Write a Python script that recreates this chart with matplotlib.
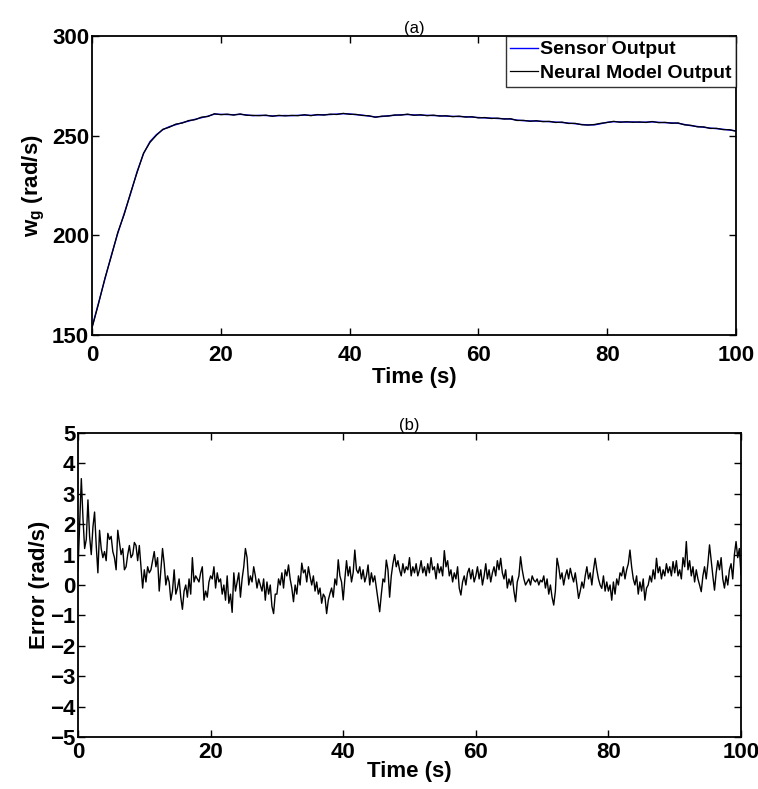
import matplotlib
matplotlib.use('Agg')
import matplotlib.pyplot as plt
import numpy as np

plt.rcParams['font.family'] = ['Liberation Sans', 'DejaVu Sans']
plt.rcParams['mathtext.fontset'] = 'custom'
plt.rcParams['mathtext.rm'] = 'Liberation Sans:bold'
plt.rcParams['mathtext.default'] = 'rm'

# (a) speed, one value per second
t_speed = np.arange(0, 101, 1)
sensor = [154, 166, 178, 190, 201, 211, 221, 232, 241, 247,
          250.5, 253, 254.5, 255.5, 256.5, 257.3, 258.2, 259, 259.8, 260.8,
          260.7, 260.6, 260.5, 260.7, 260.4, 260.0, 260.2, 260.1, 259.9, 260.0,
          260.1, 260.0, 260.2, 260.3, 260.2, 260.4, 260.5, 260.6, 260.8, 261.0,
          260.9, 260.5, 260.3, 259.8, 259.4, 259.6, 260.0, 260.2, 260.5, 260.6,
          260.4, 260.3, 260.2, 260.1, 260.0, 259.8, 259.7, 259.6, 259.5, 259.3,
          259.1, 258.9, 258.8, 258.6, 258.5, 258.3, 257.8, 257.5, 257.4, 257.3,
          257.2, 257.0, 256.8, 256.6, 256.3, 256.0, 255.6, 255.4, 255.4, 256.0,
          256.7, 257.0, 256.9, 256.8, 256.9, 256.7, 256.8, 256.9, 256.7, 256.5,
          256.4, 256.2, 255.6, 255.0, 254.6, 254.2, 253.8, 253.5, 253.2, 252.8,
          252.4]
neural = [153.5, 165.5, 178.5, 189.5, 201.5, 210.5, 221.5, 231.5, 241.2, 246.6,
          250.2, 253.2, 254.2, 255.8, 256.3, 257.6, 258.0, 259.3, 259.6, 261.0,
          260.5, 260.8, 260.3, 260.9, 260.2, 260.2, 260.0, 260.3, 259.7, 260.2,
          259.9, 260.2, 260.0, 260.5, 260.0, 260.6, 260.3, 260.8, 260.6, 261.2,
          260.7, 260.7, 260.1, 260.0, 259.2, 259.8, 259.8, 260.4, 260.3, 260.8,
          260.2, 260.5, 260.0, 260.3, 259.8, 260.0, 259.5, 259.8, 259.3, 259.5,
          258.9, 259.1, 258.6, 258.8, 258.3, 258.5, 257.6, 257.7, 257.2, 257.5,
          257.0, 257.2, 256.6, 256.8, 256.1, 256.2, 255.5, 255.3, 255.6, 256.2,
          256.6, 257.2, 256.7, 257.0, 256.7, 256.9, 256.6, 257.1, 256.5, 256.7,
          256.2, 256.4, 255.4, 255.2, 254.4, 254.4, 253.6, 253.7, 253.0, 253.0,
          252.2]

# (b) error, one value per 0.25 s
t_err = np.arange(0, 100.01, 0.25)
error = [0.5, 2.0, 3.5, 2.2, 1.2, 1.5, 2.8, 1.6, 1.0, 1.9, 2.4, 1.3, 0.4, 1.8, 1.2, 0.9, 1.1, 0.8, 1.7, 1.5,
         1.6, 1.1, 0.9, 0.5, 1.8, 1.4, 1.0, 1.2, 0.5, 0.6, 1.0, 1.3, 0.9, 1.0, 1.4, 1.3, 0.8, 1.3, 0.6, -0.1,
         0.5, 0.1, 0.6, 0.4, 0.5, 0.8, 1.1, 0.6, 0.9, -0.2, 0.5, 1.2, 0.7, 0.0, 0.3, 0.1, -0.5, -0.2, 0.5, -0.3,
         -0.1, 0.2, -0.4, -0.8, -0.2, 0.0, -0.4, 0.2, -0.3, 0.9, 0.1, 0.3, 0.2, 0.1, 0.4, 0.6, -0.5, -0.2, -0.4, 0.1,
         0.3, 0.2, 0.6, -0.1, 0.4, 0.1, 0.2, -0.3, 0.0, -0.5, 0.3, -0.6, -0.3, -0.9, 0.4, -0.2, 0.1, 0.4, -0.4, 0.2,
         0.6, 1.2, 0.9, 0.0, 0.3, 0.1, 0.6, 0.3, -0.1, 0.2, 0.0, -0.2, 0.2, -0.5, 0.1, -0.3, 0.0, -0.7, -0.94, -0.3,
         -0.3, 0.2, 0.0, 0.4, -0.1, 0.5, 0.3, 0.66, 0.2, -0.1, -0.55, 0.0, -0.3, 0.3, 0.0, 0.72, 0.4, 0.5, 0.1, 0.6,
         0.28, 0.0, 0.3, -0.2, 0.1, -0.3, -0.1, -0.6, -0.3, -0.4, -0.94, -0.5, -0.28, -0.1, -0.4, 0.2, 0.0, 0.83, 0.3, 0.1,
         -0.49, 0.2, 0.8, 0.3, 0.6, 0.1, 0.4, 1.15, 0.5, 0.39, 0.6, 0.2, 0.5, 0.1, 0.3, 0.66, 0.0, 0.4, 0.1, 0.3,
         -0.1, -0.5, -0.88, -0.3, 0.2, 0.1, 0.82, 0.5, -0.4, 0.3, 0.7, 1.0, 0.6, 0.8, 0.5, 0.3, 0.7, 0.4, 0.6, 0.5,
         0.9, 0.3, 0.6, 0.4, 0.7, 0.3, 0.5, 0.8, 0.4, 0.6, 0.3, 0.7, 0.4, 0.9, 0.5, 0.6, 0.2, 0.7, 0.4, 0.6,
         0.3, 1.13, 0.6, 0.8, 0.3, 0.5, 0.1, 0.4, 0.2, 0.6, -0.1, -0.33, 0.1, 0.3, 0.0, 0.4, 0.55, 0.2, 0.5, 0.1,
         0.3, 0.6, 0.2, 0.5, 0.0, 0.3, 0.7, 0.2, 0.5, 0.1, 0.4, 0.6, 0.3, 0.8, 0.5, 0.88, 0.4, 0.2, 0.5, -0.1,
         0.2, 0.0, 0.3, -0.2, -0.55, 0.1, 0.3, 0.93, 0.5, 0.2, 0.0, 0.1, 0.2, 0.0, 0.3, 0.16, 0.1, 0.2, 0.0, 0.16,
         0.1, 0.3, -0.1, 0.2, -0.3, 0.0, -0.4, -0.66, -0.2, 0.88, 0.6, 0.2, 0.4, 0.0, 0.3, 0.5, 0.2, 0.55, 0.3, 0.1,
         0.4, 0.0, -0.44, -0.2, 0.1, -0.1, 0.3, 0.6, 0.2, 0.4, 0.0, 0.5, 0.88, 0.5, 0.2, 0.0, -0.11, 0.3, -0.2, 0.1,
         -0.2, 0.0, -0.5, 0.1, -0.3, 0.2, 0.0, 0.4, 0.3, 0.6, 0.2, 0.5, 0.7, 1.15, 0.6, 0.2, 0.0, 0.3, -0.3, 0.1,
         -0.2, 0.2, -0.5, -0.1, 0.0, 0.3, 0.1, 0.5, 0.2, 0.88, 0.4, 0.6, 0.2, 0.5, 0.3, 0.7, 0.4, 0.6, 0.3, 0.77,
         0.4, 0.8, 0.3, 0.5, 0.2, 0.9, 0.6, 1.43, 0.5, 0.8, 0.3, 0.6, 0.1, 0.5, 0.2, 0.0, -0.22, 0.3, 0.6, 0.2,
         0.7, 1.32, 0.8, 0.3, -0.17, 0.4, 0.8, 0.5, 0.9, 0.2, -0.1, 0.3, 0.0, 0.5, 0.7, 0.2, 1.0, 1.43, 0.9, 1.2,
         0.33]

x_ticks = [0, 20, 40, 60, 80, 100]
speed_ticks = [150, 200, 250, 300]
err_ticks = [-5, -4, -3, -2, -1, 0, 1, 2, 3, 4, 5]


def style_axes(ax, xpad):
    for s in ax.spines.values():
        s.set_linewidth(1.3)
    ax.tick_params(direction='in', length=5, width=1, top=True, right=True,
                   labelsize=16)
    ax.tick_params(axis='x', pad=xpad)
    ax.tick_params(axis='y', pad=2)
    for lab in ax.get_xticklabels() + ax.get_yticklabels():
        lab.set_fontweight('bold')


fig = plt.figure(figsize=(7.58, 7.89), dpi=100)
ax1 = fig.add_axes([0.1214, 0.5754, 0.8496, 0.379])
ax2 = fig.add_axes([0.1029, 0.0659, 0.8747, 0.3853])

ax1.plot(t_speed, sensor, color='#0000ff', lw=1.0, label='Sensor Output')
ax1.plot(t_speed, neural, color='black', lw=0.9, label='Neural Model Output')
ax1.set_xlim(0, 100)
ax1.set_ylim(150, 300)
ax1.set_xticks(x_ticks)
ax1.set_yticks(speed_ticks)
style_axes(ax1, 7)
ax1.set_xlabel('Time (s)', fontsize=16, fontweight='bold', labelpad=1)
ax1.set_ylabel(r'w$_{g}$ (rad/s)', fontsize=16, fontweight='bold', labelpad=4)
ax1.set_title('(a)', fontsize=12, pad=2)
leg = ax1.legend(loc='upper right', borderaxespad=0, fancybox=False,
                 edgecolor='black', handlelength=1.4, handletextpad=0.1,
                 borderpad=0.25, labelspacing=0.3,
                 prop={'size': 14, 'weight': 'bold'})
leg.get_frame().set_linewidth(1.0)

ax2.plot(t_err, error, color='black', lw=1.0)
ax2.set_xlim(0, 100)
ax2.set_ylim(-5, 5)
ax2.set_xticks(x_ticks)
ax2.set_yticks(err_ticks)
style_axes(ax2, 3.5)
ax2.set_xlabel('Time (s)', fontsize=16, fontweight='bold', labelpad=-1)
ax2.set_ylabel('Error (rad/s)', fontsize=16, fontweight='bold', labelpad=0)
ax2.set_title('(b)', fontsize=12, pad=2)

fig.savefig('out.png', dpi=100)
